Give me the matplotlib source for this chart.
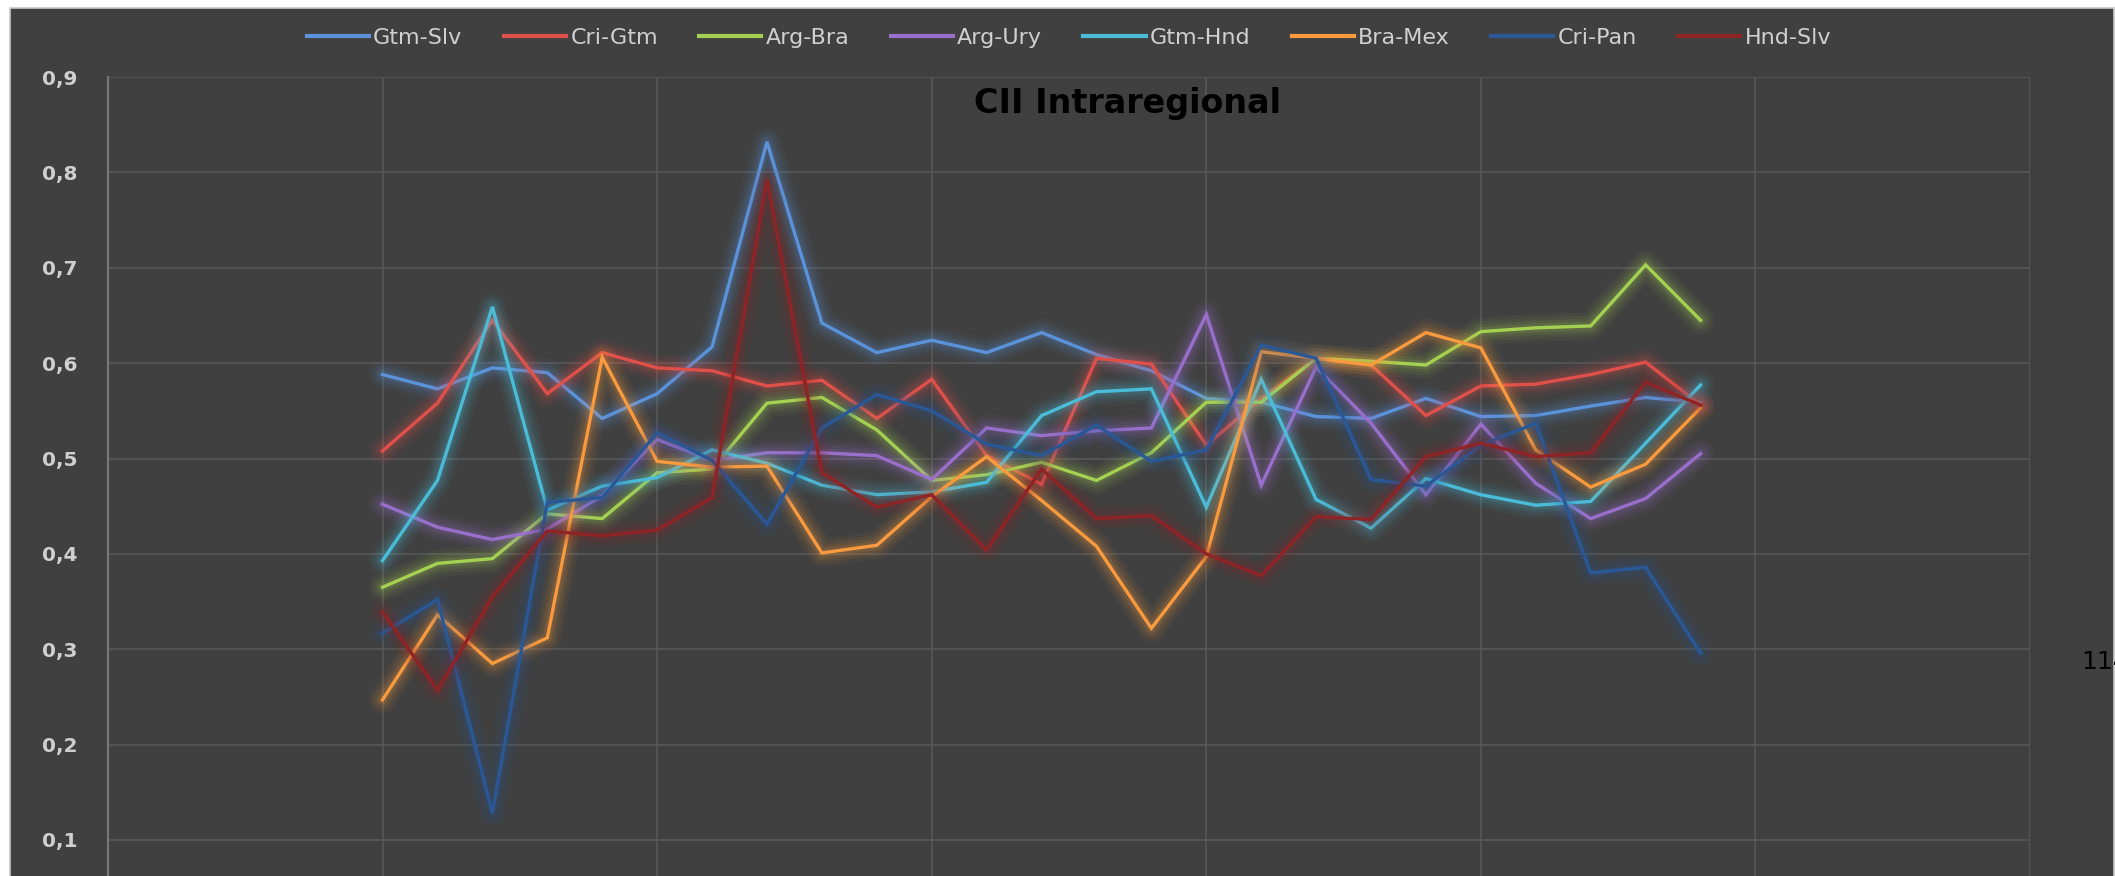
import numpy as np
import matplotlib
matplotlib.use("Agg")
import matplotlib.pyplot as plt
from matplotlib.patches import Rectangle

# ---------------- data ----------------
periods = list(range(5, 30))   # 25 observations along the category axis

gtm_slv = [0.588, 0.573, 0.595, 0.590, 0.542, 0.568, 0.617, 0.832, 0.642, 0.611,
           0.624, 0.611, 0.632, 0.609, 0.592, 0.563, 0.559, 0.544, 0.542, 0.563,
           0.544, 0.545, 0.555, 0.564, 0.559]
cri_gtm = [0.508, 0.558, 0.645, 0.568, 0.611, 0.595, 0.592, 0.576, 0.582, 0.542,
           0.583, 0.503, 0.473, 0.605, 0.599, 0.514, 0.563, 0.605, 0.598, 0.545,
           0.576, 0.578, 0.588, 0.601, 0.556]
arg_bra = [0.365, 0.390, 0.395, 0.442, 0.437, 0.485, 0.489, 0.558, 0.564, 0.530,
           0.477, 0.483, 0.496, 0.477, 0.506, 0.559, 0.559, 0.605, 0.602, 0.598,
           0.633, 0.637, 0.639, 0.703, 0.645]
arg_ury = [0.452, 0.428, 0.415, 0.426, 0.461, 0.520, 0.498, 0.506, 0.506, 0.503,
           0.478, 0.532, 0.524, 0.529, 0.532, 0.651, 0.472, 0.596, 0.537, 0.462,
           0.536, 0.474, 0.437, 0.458, 0.505]
gtm_hnd = [0.393, 0.477, 0.659, 0.446, 0.471, 0.480, 0.509, 0.495, 0.472, 0.462,
           0.465, 0.475, 0.545, 0.570, 0.573, 0.449, 0.583, 0.457, 0.427, 0.479,
           0.462, 0.451, 0.455, 0.516, 0.577]
bra_mex = [0.247, 0.336, 0.285, 0.312, 0.606, 0.497, 0.491, 0.492, 0.401, 0.409,
           0.460, 0.502, 0.456, 0.408, 0.322, 0.397, 0.612, 0.605, 0.598, 0.632,
           0.616, 0.509, 0.470, 0.494, 0.553]
cri_pan = [0.317, 0.352, 0.128, 0.454, 0.459, 0.527, 0.498, 0.431, 0.532, 0.567,
           0.550, 0.515, 0.503, 0.535, 0.497, 0.509, 0.619, 0.605, 0.478, 0.471,
           0.514, 0.537, 0.380, 0.386, 0.296]
hnd_slv = [0.339, 0.257, 0.355, 0.424, 0.419, 0.425, 0.459, 0.792, 0.485, 0.449,
           0.462, 0.404, 0.489, 0.437, 0.440, 0.400, 0.377, 0.439, 0.436, 0.502,
           0.516, 0.502, 0.506, 0.580, 0.556]

series_names = ["Gtm-Slv", "Cri-Gtm", "Arg-Bra", "Arg-Ury",
                "Gtm-Hnd", "Bra-Mex", "Cri-Pan", "Hnd-Slv"]
series_values = [gtm_slv, cri_gtm, arg_bra, arg_ury, gtm_hnd, bra_mex, cri_pan, hnd_slv]

y_ticks = [0.1, 0.2, 0.3, 0.4, 0.5, 0.6, 0.7, 0.8, 0.9]
y_tick_labels = ["0,1", "0,2", "0,3", "0,4", "0,5", "0,6", "0,7", "0,8", "0,9"]

title_text = "CII Intraregional"
page_text = "114"

# ---------------- style ----------------
colors = ["#5B93DB", "#E0504A", "#A5D152", "#9A6FCB",
          "#4BBCD8", "#F99A3E", "#2A5896", "#8E2426"]

W, H = 2115, 876
fig = plt.figure(figsize=(W / 100, H / 100), dpi=100)
fig.patch.set_facecolor("white")

# dark chart area (behind everything)
fig.patches.append(Rectangle((10 / W, -0.05), (2114 - 10) / W, 1 - 8 / H + 0.05,
                             transform=fig.transFigure, facecolor="#404040",
                             edgecolor="#c8c8c8", lw=1.2, zorder=-10))

ax_left, ax_right = 108, 2030
y_top_px, y_01_px = 77, 840
px_per_unit = (y_01_px - y_top_px) / 0.8
y0_px = y_top_px + 0.9 * px_per_unit           # pixel row of value 0 (below figure)
ax = fig.add_axes([ax_left / W, (H - y0_px) / H,
                   (ax_right - ax_left) / W, (y0_px - y_top_px) / H])
ax.set_zorder(1)
ax.set_facecolor("#404040")
ax.set_xlim(0, 35)
ax.set_ylim(0, 0.9)
ax.set_xticks(range(0, 36, 5))
ax.set_xticklabels([])
ax.set_yticks(y_ticks)
ax.set_yticklabels(y_tick_labels)
ax.tick_params(axis="both", length=0)
ax.tick_params(axis="y", pad=22, labelsize=14.5, labelcolor="#cfcfcf")
for lbl in ax.get_yticklabels():
    lbl.set_fontweight("bold")
ax.grid(True, color="#595959", lw=1.1)
ax.set_axisbelow(True)
for s in ["top", "right", "bottom"]:
    ax.spines[s].set_visible(False)
ax.spines["left"].set_color("#777777")
ax.spines["left"].set_linewidth(1.6)

handles = []
for k, (name, vals, col) in enumerate(zip(series_names, series_values, colors)):
    z = 3 + k * 2
    for lw, a in [(20, 0.05), (15, 0.07), (10.5, 0.09), (6.5, 0.13)]:
        ax.plot(periods, vals, color=col, lw=lw, alpha=a,
                solid_joinstyle="round", solid_capstyle="round", zorder=z)
    h, = ax.plot(periods, vals, color=col, lw=2.4, label=name,
                 solid_joinstyle="miter", zorder=z + 1)
    handles.append(h)

fig.text(1127 / W, 1 - 104 / H, title_text, ha="center", va="center",
         fontsize=24, fontweight="heavy", color="black", zorder=5)

fig.text(2081 / W, 1 - 662 / H, page_text, ha="left", va="center",
         fontsize=18, color="black", zorder=5)

leg = fig.legend(handles, series_names, loc="center", bbox_to_anchor=(1069 / W, 1 - 38 / H),
                 ncol=8, frameon=False, fontsize=16, handlelength=2.8,
                 handletextpad=0.2, columnspacing=1.85, labelcolor="#d0d0d0")
for lh in leg.get_lines():
    lh.set_linewidth(3)

fig.savefig("out.png", dpi=100, facecolor=fig.get_facecolor())
